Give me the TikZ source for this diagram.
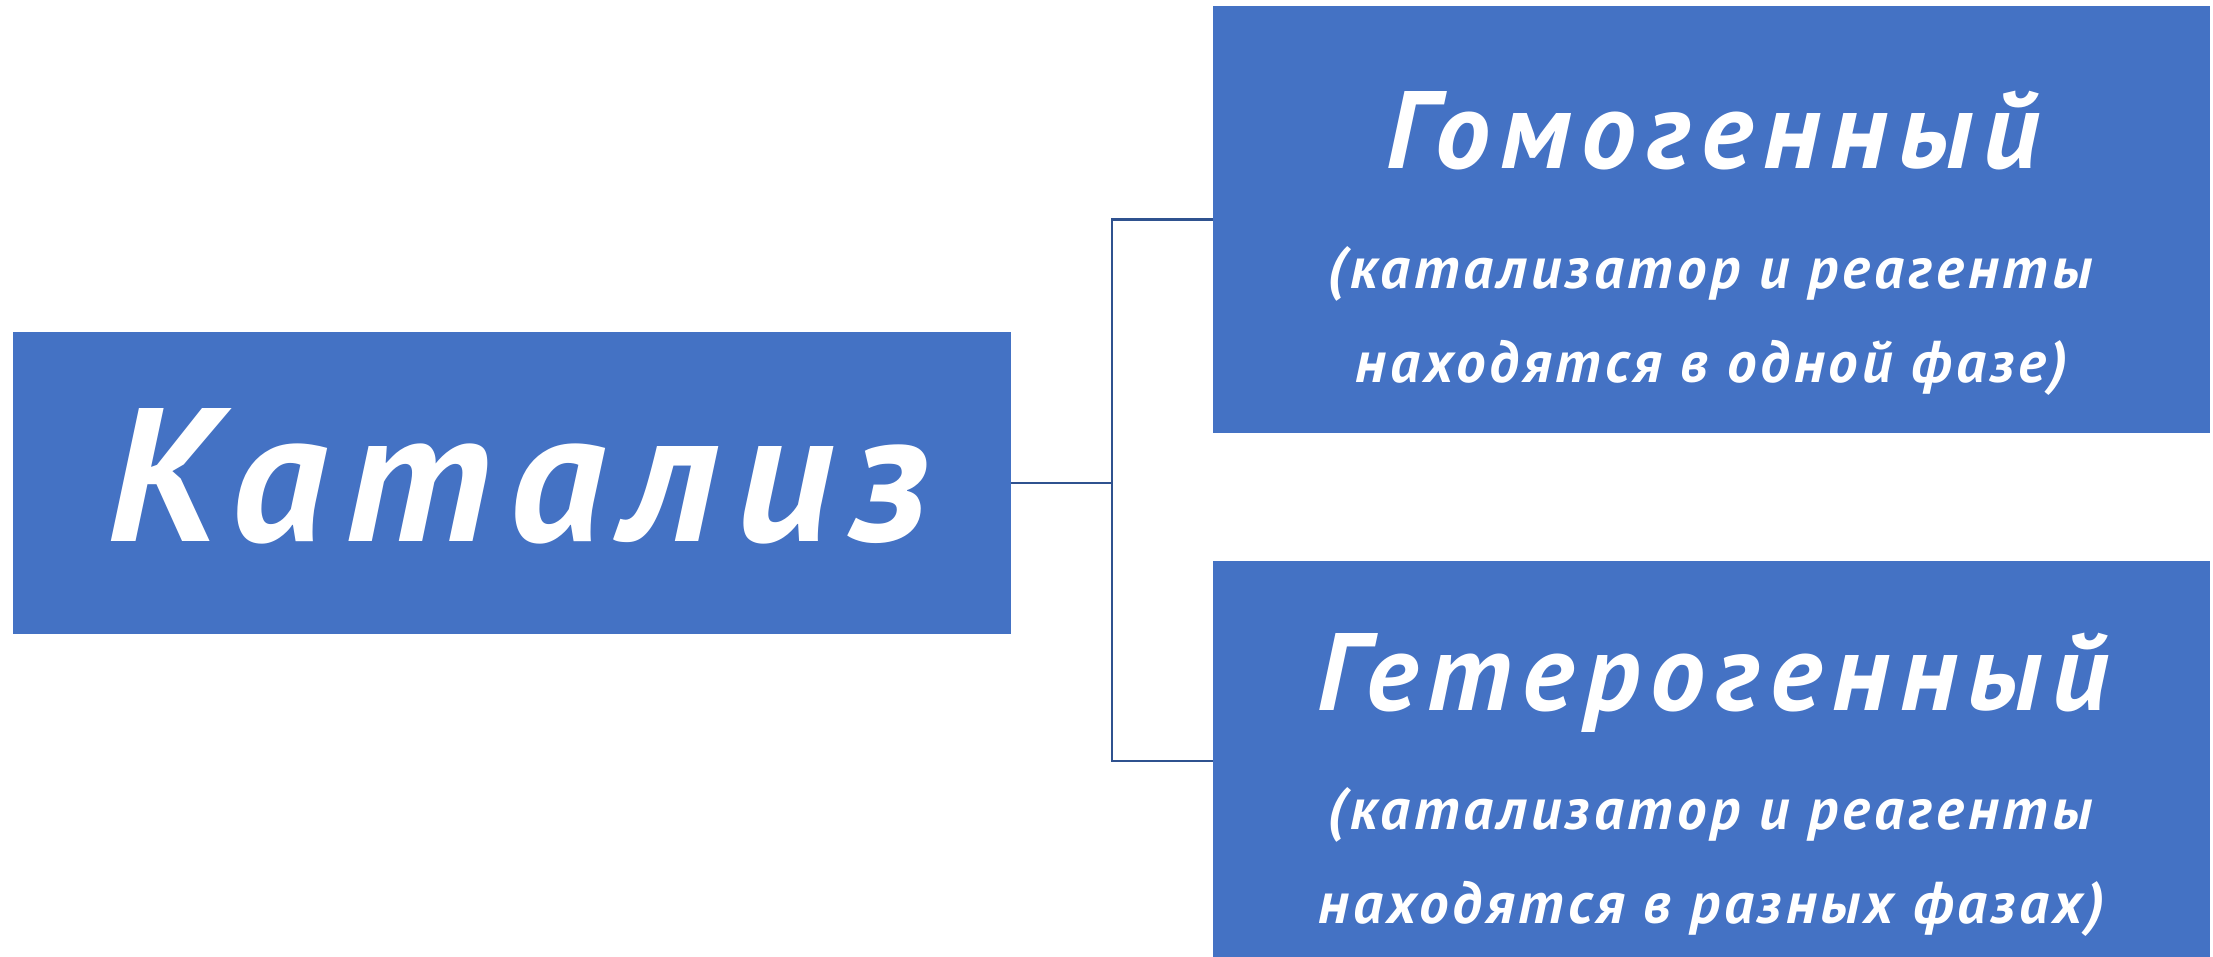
\documentclass[tikz,border=0pt]{standalone}
\usepackage{fontspec}
\setmainfont{PT Sans}
\newfontfamily\bigfont{PT Sans}[LetterSpace=9.5]
\newfontfamily\subfont{PT Sans}[LetterSpace=7]
\definecolor{boxblue}{HTML}{4472C4}
\definecolor{linkblue}{HTML}{2F528F}
\begin{document}
\begin{tikzpicture}[x=1pt,y=-1pt,
  box/.style={fill=boxblue, draw=none, inner sep=0pt, outer sep=0pt},
  conn/.style={draw=linkblue, line width=2.6pt},
  katal/.style={text=white, anchor=base, inner sep=0pt, font=\bigfont\bfseries\itshape\fontsize{190}{190}\selectfont},
  ttl/.style={text=white, anchor=base, inner sep=0pt, font=\bigfont\bfseries\itshape\fontsize{110}{110}\selectfont},
  sub/.style={text=white, anchor=base, inner sep=0pt, font=\subfont\bfseries\itshape\fontsize{59}{59}\selectfont}]
\useasboundingbox (0,0) rectangle (2213,956);
\node[box, minimum width=998pt, minimum height=302pt] (L) at (512,483) {};
\node[box, minimum width=997pt, minimum height=427pt] (TR) at (1711.5,219.5) {};
\node[box, minimum width=997pt, minimum height=400pt] (BR) at (1711.5,761) {};
\coordinate (jt) at (1112,0);
\draw[conn] (L.east) -- (L.east -| jt);
\draw[conn] (TR.west) -- (TR.west -| jt) -- (BR.west -| jt) -- (BR.west);
\node[katal] (tK) at (518,541) {Катализ};
\node[ttl] (t1) at (1713,168) {Гомогенный};
\node[sub] (t1a) at (1710,288) {(катализатор и реагенты};
\node[sub] (t1b) at (1712,382) {находятся в одной фазе)};
\node[ttl] (t2) at (1713,710) {Гетерогенный};
\node[sub] (t2a) at (1710,829) {(катализатор и реагенты};
\node[sub] (t2b) at (1712,923) {находятся в разных фазах)};
\end{tikzpicture}
\end{document}
